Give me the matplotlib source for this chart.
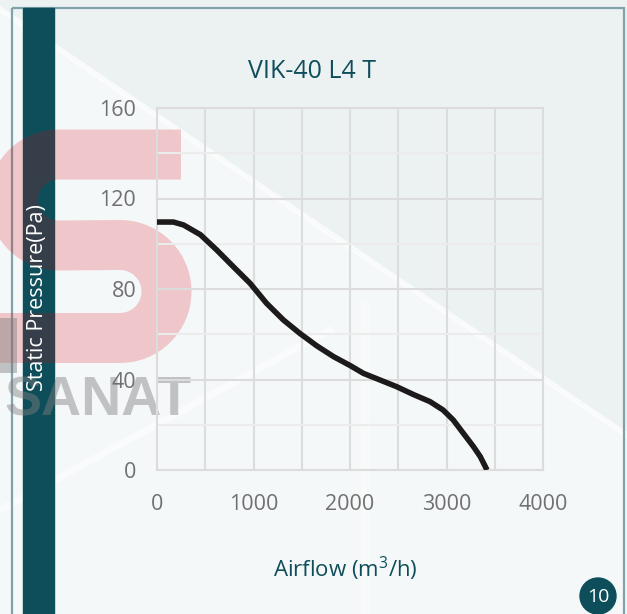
import numpy as np
import matplotlib
matplotlib.use("Agg")
import matplotlib.pyplot as plt
from matplotlib.patches import Rectangle, Circle, Polygon

plt.rcParams['font.family'] = ['Open Sans', 'DejaVu Sans']
plt.rcParams['mathtext.fontset'] = 'custom'
plt.rcParams['mathtext.rm'] = 'Open Sans'

# fan curve
airflow = [0, 170, 275, 450, 620, 790, 965, 1135, 1310, 1480, 1655, 1830,
           2000, 2140, 2310, 2485, 2655, 2830, 2965, 3070, 3175, 3280, 3350, 3420]
pressure = [109.6, 109.6, 108.3, 104, 97.2, 89.9, 82.5, 73.7, 66.3, 60.4, 54.9, 50.1,
            46.2, 42.7, 39.8, 36.8, 33.4, 30.2, 26.5, 22.1, 16.2, 10.3, 5.9, 0]

title = "VIK-40 L4 T"
xticks = [0, 1000, 2000, 3000, 4000]
yticks = [0, 40, 80, 120, 160]

W, H = 627, 614
teal = '#0e4e5b'

fig = plt.figure(figsize=(W / 100, H / 100), dpi=100)

# background in pixel coordinates
bg = fig.add_axes([0, 0, 1, 1])
bg.set_xlim(0, W)
bg.set_ylim(H, 0)
bg.axis('off')
bg.add_patch(Rectangle((0, 0), W, H, color='#f5f8f9', zorder=0))
bg.add_patch(Polygon([(0, 0), (W, 0), (W, 435), (0, 9)], color='#ecf1f2', zorder=1))
bg.plot([0, W], [9, 435], color='white', lw=4, alpha=0.7, zorder=2)
bg.plot([0, 330], [510, 330], color='white', lw=5, alpha=0.5, zorder=2)
bg.add_patch(Rectangle((361, 300), 8, 320, color='white', alpha=0.3, zorder=2))

# frame and side bar
bg.add_patch(Rectangle((12, 8), 612, 700, fill=False, ec='#80a2aa', lw=1.6, zorder=3))
bg.add_patch(Rectangle((23, 8), 31, 620, color=teal, zorder=4))

# watermark "S"
t1 = np.linspace(np.pi / 2, 3 * np.pi / 2, 40)
t2 = np.linspace(-np.pi / 2, np.pi / 2, 40)
sx = np.concatenate([[181], 58.5 + 45.5 * np.cos(t1), 120 + 46.5 * np.cos(t2[::-1]), [0]])
sy = np.concatenate([[154.5], 200 - 45.5 * np.sin(t1), 291.5 - 46.5 * np.sin(t2[::-1]), [338]])
bg.plot(sx, sy, color=(0.855, 0, 0.04), alpha=0.2, lw=36,
        solid_capstyle='butt', solid_joinstyle='miter', zorder=5)
bg.add_patch(Rectangle((0, 318), 17, 55, color='gray', alpha=0.45, lw=0, zorder=5))
bg.text(4, 415, "SANAT", family='Liberation Sans', weight='bold', fontsize=40,
        color='gray', alpha=0.45, zorder=5)

bg.text(38, 298, "Static Pressure(Pa)", rotation=90, color='white', fontsize=15.5,
        ha='center', va='center', zorder=6)
bg.add_patch(Circle((598, 596), 18, color=teal, zorder=6))
bg.text(598, 597, "10", color='white', fontsize=14, ha='center', va='center', zorder=7)
bg.text(312, 72, title, color=teal, fontsize=18, ha='center', va='center', zorder=6)
bg.text(345, 569, r'Airflow (m$^3$/h)', color=teal, fontsize=16, ha='center',
        va='center', zorder=6)

# chart
ax = fig.add_axes([157 / W, (H - 470) / H, 386 / W, 362 / H])
ax.patch.set_alpha(0)
ax.plot(airflow, pressure, color='#1c1a1a', lw=4, solid_capstyle='butt', zorder=3)
ax.set_xlim(0, 4000)
ax.set_ylim(0, 160)
ax.set_xticks(xticks)
ax.set_yticks(yticks)
ax.set_xticks(np.arange(500, 4000, 1000), minor=True)
ax.set_yticks(np.arange(20, 160, 40), minor=True)
ax.grid(True, which='major', color='#dcdcdc', lw=1.5)
ax.grid(True, which='minor', axis='x', color='#dcdcdc', lw=1.5)
ax.grid(True, which='minor', axis='y', color='#ececec', lw=1.5)
ax.tick_params(which='both', length=0, labelsize=15.5, labelcolor='#707070')
ax.tick_params(axis='x', pad=17)
ax.tick_params(axis='y', pad=15)
for s in ax.spines.values():
    s.set_color('#dcdcdc')
    s.set_linewidth(1.5)

fig.savefig('out.png', dpi=100)
